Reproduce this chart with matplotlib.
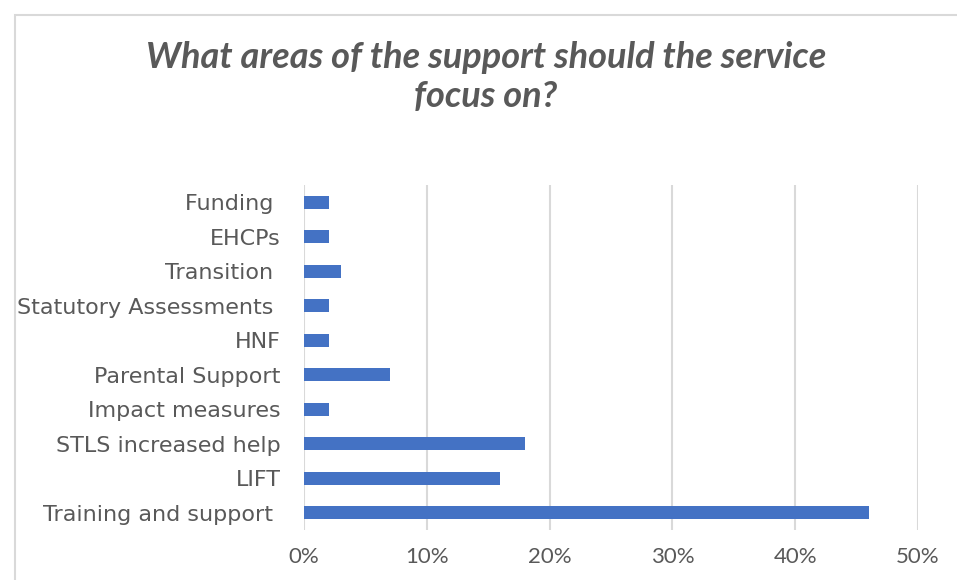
import matplotlib
matplotlib.use('Agg')
import matplotlib.pyplot as plt
from matplotlib.patches import Rectangle
from matplotlib.ticker import PercentFormatter

# Survey responses, share of respondents (%)
categories = ['Funding ', 'EHCPs', 'Transition ', 'Statutory Assessments ', 'HNF',
              'Parental Support', 'Impact measures', 'STLS increased help', 'LIFT',
              'Training and support ']
shares = [2, 2, 3, 2, 2, 7, 2, 18, 16, 46]
xticks = [0, 10, 20, 30, 40, 50]

BAR = '#4472C4'
TEXT = '#595959'
GRID = '#D9D9D9'

plt.rcParams['font.family'] = ['DejaVu Sans']

fig = plt.figure(figsize=(9.57, 5.8), dpi=100)
W, H = 957, 580
ax = fig.add_axes([304 / W, 1 - 530 / H, (918 - 304) / W, (530 - 185) / H])

# chart frame, clipped at the right and bottom edges
fig.patches.append(Rectangle((15 / W, -0.1), 1.2, 1 - 15 / H + 0.1,
                             transform=fig.transFigure, fill=False,
                             edgecolor=GRID, linewidth=1.5))

y = list(range(len(categories)))
ax.barh(y, shares, height=0.38, color=BAR, zorder=3)
ax.set_yticks(y)
ax.set_yticklabels(categories)
ax.set_ylim(len(categories) - 0.5, -0.5)
ax.set_xlim(0, 50)
ax.set_xticks(xticks)
ax.xaxis.set_major_formatter(PercentFormatter(decimals=0))
ax.grid(axis='x', color=GRID, linewidth=1.5, zorder=0)
for s in ax.spines.values():
    s.set_visible(False)
ax.tick_params(length=0, colors=TEXT)
ax.tick_params(axis='y', pad=17, labelsize=16)
ax.tick_params(axis='x', pad=12, labelsize=16, labelfontfamily='Lato')

fig.text(486 / W, 1 - 77 / H, 'What areas of the support should the service\nfocus on?',
         ha='center', va='center', fontsize=26, fontweight='bold', fontstyle='italic',
         family=['Lato', 'DejaVu Sans'], color=TEXT, linespacing=1.2)

fig.savefig('out.png', dpi=100)
